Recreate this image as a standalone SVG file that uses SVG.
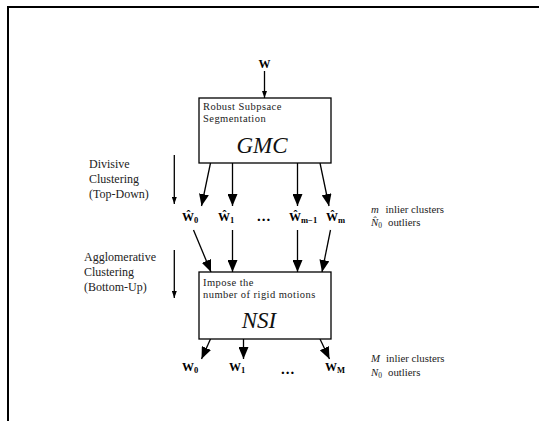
<svg xmlns="http://www.w3.org/2000/svg" width="539" height="421" viewBox="0 0 539 421">
<style>
.bx{fill:#fff;stroke:#000;stroke-width:1.3}
.ln{stroke:#000;stroke-width:1.3;fill:none}
.big{marker-end:url(#bigHead)}
.sm{marker-end:url(#smHead)}
text{font-family:"Liberation Serif","Times New Roman","DejaVu Serif",serif}
.t{fill:#222}
.sml{font-size:10.5px;letter-spacing:0.45px}
.lab{font-size:12px}
.it{font-style:italic;font-size:23px;fill:#111}
.bw{font-weight:bold;font-size:12px;fill:#000}
.sub{font-size:8.5px}
.rl{font-size:10.8px}
.dots{font-weight:bold;font-size:15px;letter-spacing:1px;fill:#000}
</style>
<defs>
<marker id="bigHead" markerUnits="userSpaceOnUse" markerWidth="12" markerHeight="10" refX="12" refY="5" orient="auto"><path d="M0,0 L12,5 L0,10 z" fill="#000"/></marker>
<marker id="smHead" markerUnits="userSpaceOnUse" markerWidth="7" markerHeight="5" refX="7" refY="2.5" orient="auto"><path d="M0,0 L7,2.5 L0,5 z" fill="#000"/></marker>
</defs>
<rect width="539" height="421" fill="#fff"/>
<g id="frame">
<line x1="7" y1="7" x2="539" y2="7" stroke="#000" stroke-width="2"/>
<line x1="8" y1="6" x2="8" y2="421" stroke="#000" stroke-width="2"/>
</g>
<g id="connectors">
<line class="ln sm" x1="264.5" y1="71" x2="264.5" y2="98"/>
<line class="ln big" x1="210.5" y1="163" x2="201.5" y2="206"/>
<line class="ln big" x1="232.5" y1="163" x2="232.5" y2="206"/>
<line class="ln big" x1="297.5" y1="163" x2="297.5" y2="206"/>
<line class="ln big" x1="320" y1="163" x2="329" y2="206"/>
<line class="ln big" x1="193.5" y1="230" x2="211" y2="272"/>
<line class="ln big" x1="232.5" y1="230" x2="232.5" y2="272"/>
<line class="ln big" x1="297.5" y1="230" x2="297.5" y2="272"/>
<line class="ln big" x1="330.5" y1="230" x2="322" y2="272"/>
<line class="ln big" x1="210.5" y1="339" x2="201.5" y2="359"/>
<line class="ln big" x1="243.5" y1="339" x2="243.5" y2="359"/>
<line class="ln big" x1="320" y1="339" x2="329.5" y2="359"/>
<line class="ln sm" x1="174.3" y1="155" x2="174.3" y2="204"/>
<line class="ln sm" x1="174.3" y1="250" x2="174.3" y2="298"/>
</g>
<g id="gmc">
<rect class="bx" x="199" y="98" width="132" height="65"/>
<text class="t sml" x="203" y="110">Robust Subpsace</text>
<text class="t sml" x="203" y="122">Segmentation</text>
<text class="t it" x="262" y="153" text-anchor="middle">GMC</text>
</g>
<g id="nsi">
<rect class="bx" x="199" y="272" width="132" height="67"/>
<text class="t sml" x="203" y="285.5">Impose the</text>
<text class="t sml" x="203" y="297.5">number of rigid motions</text>
<text class="t it" x="259" y="328" text-anchor="middle">NSI</text>
</g>
<g id="input-w">
<text class="bw" x="264.5" y="68" text-anchor="middle">W</text>
</g>
<g id="w-hat-row">
<text class="bw" x="182" y="221">Ŵ<tspan class="sub" dy="2">0</tspan></text>
<text class="bw" x="218" y="221">Ŵ<tspan class="sub" dy="2">1</tspan></text>
<text class="dots" x="257" y="221">...</text>
<text class="bw" x="289" y="221">Ŵ<tspan class="sub" dy="2">m−1</tspan></text>
<text class="bw" x="326" y="221">Ŵ<tspan class="sub" dy="2">m</tspan></text>
</g>
<g id="w-row">
<text class="bw" x="182" y="371">W<tspan class="sub" dy="2">0</tspan></text>
<text class="bw" x="229" y="371">W<tspan class="sub" dy="2">1</tspan></text>
<text class="dots" x="281" y="374">...</text>
<text class="bw" x="325" y="371">W<tspan class="sub" dy="2">M</tspan></text>
</g>
<g id="divisive-label">
<text class="t lab" x="89" y="167.5">Divisive</text>
<text class="t lab" x="89" y="182.5">Clustering</text>
<text class="t lab" x="89" y="197.5">(Top-Down)</text>
</g>
<g id="agglomerative-label">
<text class="t lab" x="84" y="261">Agglomerative</text>
<text class="t lab" x="84" y="276">Clustering</text>
<text class="t lab" x="84" y="290.5">(Bottom-Up)</text>
</g>
<g id="top-stats">
<text class="t rl" x="371" y="212.5"><tspan font-style="italic">m</tspan><tspan x="385.5">inlier clusters</tspan></text>
<text class="t rl" x="371" y="225.5"><tspan font-style="italic">N̂</tspan><tspan font-size="7.5" dy="2">0</tspan><tspan x="388" dy="-2">outliers</tspan></text>
</g>
<g id="bottom-stats">
<text class="t rl" x="371" y="362"><tspan font-style="italic">M</tspan><tspan x="386">inlier clusters</tspan></text>
<text class="t rl" x="371" y="375.5"><tspan font-style="italic">N</tspan><tspan font-size="7.5" dy="2">0</tspan><tspan x="388" dy="-2">outliers</tspan></text>
</g>
</svg>
